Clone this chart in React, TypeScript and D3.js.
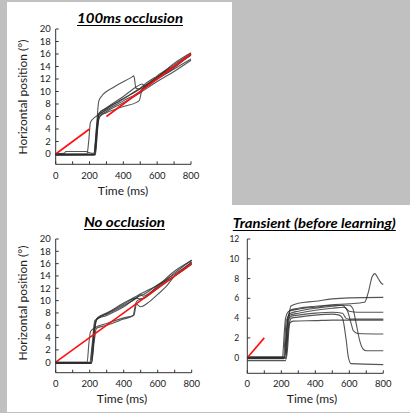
import React from "react";
import * as d3 from "d3";

type Pt = [number, number];

// ---- tick labels ----
const xTicksMajor = [0, 200, 400, 600, 800];
const xTicksMinor = [0, 100, 200, 300, 400, 500, 600, 700, 800];
const yTicksPos = [0, 2, 4, 6, 8, 10, 12, 14, 16, 18, 20];
const yTicksTransient = [0, 2, 4, 6, 8, 10, 12];

// ---- titles / labels ----
const titles = ["100ms occlusion", "No occlusion", "Transient (before learning)"];
const xLabel = "Time (ms)";
const yLabel = "Horizontal position (°)";

// ---- target (red) ----
const targetOcclA: Pt = [0, 0];
const targetOcclB: Pt = [200, 4];
const targetOcclC: Pt = [300, 6];
const targetOcclD: Pt = [800, 16];
const targetFull: Pt[] = [[0, 0], [800, 16]];
const targetTransient: Pt[] = [[0, 0], [100, 2]];

// ---- eye traces: 100ms occlusion ----
const occ1: Pt[] = [[0, 0], [185, 0], [195, 2], [205, 5], [220, 5.6], [250, 6.2], [300, 7.2], [400, 8.8], [480, 10.2], [520, 10.8], [600, 12.3], [700, 14], [800, 15.8]];
const occ2: Pt[] = [[0, -0.1], [225, -0.1], [240, 4], [255, 8.5], [270, 9.2], [350, 10.8], [450, 12.3], [462, 12.5], [475, 10.5], [500, 10.4], [600, 12], [700, 13.6], [800, 15.2]];
const occ3: Pt[] = [[0, -0.15], [230, -0.1], [245, 4], [255, 6.2], [300, 7], [400, 8.5], [470, 9.5], [490, 9.8], [520, 10.6], [600, 12.3], [700, 14.1], [800, 15.9]];
const occ4: Pt[] = [[0, -0.2], [232, -0.15], [248, 4], [258, 6], [300, 6.6], [400, 7.6], [480, 8.3], [495, 8.6], [510, 10.2], [600, 12], [700, 13.8], [800, 16]];
const occ5: Pt[] = [[0, 0], [228, 0], [243, 4.5], [255, 6.5], [300, 7.3], [400, 8.9], [500, 10.5], [520, 11], [600, 12.5], [700, 14.3], [800, 16.1]];
const occ6: Pt[] = [[0, -0.1], [235, -0.1], [250, 5], [262, 6], [300, 6.8], [400, 8.2], [500, 9.8], [600, 11.6], [700, 13.2], [800, 15]];
const occ7: Pt[] = [[0, 0], [50, 0.1], [60, 0.4], [180, 0.4], [200, 0.2], [225, 0.1], [240, 3], [255, 6.4], [300, 7.4], [400, 9.2], [480, 10.8], [510, 11.2], [530, 10.8], [600, 12.2], [700, 14.5], [800, 16.2]];

// ---- eye traces: no occlusion ----
const no1: Pt[] = [[0, 0], [185, 0], [195, 3], [205, 5], [230, 5.6], [300, 6.3], [400, 7.2], [455, 7.6], [470, 9.5], [480, 10], [520, 10.4], [600, 12], [700, 14], [800, 16.3]];
const no2: Pt[] = [[0, -0.1], [205, -0.1], [218, 3], [232, 6.5], [260, 7.3], [300, 7.8], [400, 9.2], [480, 10.5], [500, 11], [515, 10.7], [550, 11.2], [600, 12.2], [700, 14.5], [800, 16.6]];
const no3: Pt[] = [[0, -0.15], [208, -0.15], [225, 4], [240, 7], [300, 7.9], [400, 9.4], [470, 10.4], [500, 10.3], [600, 12.4], [700, 14.8], [800, 16.5]];
const no4: Pt[] = [[0, -0.2], [210, -0.2], [225, 3], [240, 5.5], [300, 6], [400, 7], [460, 7.6], [475, 9.4], [500, 9], [550, 9.8], [600, 11], [650, 12.3], [700, 14], [750, 15], [800, 16]];
const no5: Pt[] = [[0, 0], [200, 0], [215, 3], [230, 6.8], [300, 7.6], [400, 9], [490, 10.7], [510, 10.9], [600, 12.6], [700, 14.3], [800, 16.2]];
const no6: Pt[] = [[0, -0.1], [212, -0.1], [228, 5], [245, 7.2], [300, 8], [400, 9.6], [480, 10.8], [600, 12.5], [700, 14], [800, 15.9]];

// ---- eye traces: transient ----
const tr1: Pt[] = [[0, 0], [225, 0], [240, 3], [255, 5.2], [300, 5.5], [400, 5.7], [500, 5.95], [600, 6.05], [800, 6.1]];
const tr2: Pt[] = [[0, -0.1], [215, -0.1], [232, 3], [250, 4.8], [300, 5], [400, 5.2], [500, 5.35], [600, 5.45], [690, 5.6], [710, 6.5], [735, 8.2], [750, 8.5], [770, 8], [790, 7.5], [800, 7.4]];
const tr3: Pt[] = [[0, 0.1], [220, 0.1], [240, 4.2], [255, 4.5], [300, 4.7], [400, 5], [500, 5.2], [560, 5.3], [580, 5], [600, 4.7], [650, 4.6], [800, 4.6]];
const tr4: Pt[] = [[0, 0], [220, 0], [240, 3.8], [260, 4.2], [300, 4.3], [400, 4.5], [500, 4.6], [560, 4.5], [580, 4], [600, 3.9], [800, 3.9]];
const tr5: Pt[] = [[0, -0.05], [230, -0.05], [250, 3.5], [270, 3.7], [400, 3.75], [500, 3.8], [800, 3.8]];
const tr6: Pt[] = [[0, 0.05], [212, 0.05], [230, 3.8], [250, 4.3], [300, 4.5], [400, 4.8], [500, 5], [570, 5.1], [590, 4.7], [610, 3.5], [625, 2.7], [650, 2.45], [800, 2.4]];
const tr7: Pt[] = [[0, 0], [205, 0], [225, 4], [245, 4.7], [300, 4.9], [400, 5.1], [500, 5.3], [600, 5.3], [620, 5], [640, 3.5], [660, 1.8], [680, 0.9], [700, 0.7], [800, 0.7]];
const tr8: Pt[] = [[0, -0.3], [225, -0.3], [242, 3], [260, 4], [300, 4.1], [400, 4.3], [500, 4.4], [540, 4.3], [560, 4], [580, 2], [595, 0], [610, -0.6], [800, -0.7]];

const occTraces = [occ1, occ2, occ3, occ4, occ5, occ6, occ7];
const noTraces = [no1, no2, no3, no4, no5, no6];
const trTraces = [tr1, tr2, tr3, tr4, tr5, tr6, tr7, tr8];

const FONT = "Lato, 'Open Sans', sans-serif";

interface PanelProps {
  x0: number; x1: number; yTop: number; yBottom: number;
  yMax: number; yMin: number; yTicks: number[];
  traces: Pt[][]; red: Pt[][];
  title: string; titleX: number; titleY: number; titleW: number;
  yLabelShow: boolean; yLabelX: number; yLabelY: number;
  xLabelX: number; xLabelY: number; tickLabelY: number;
  yTickFont: number; yTickGap: number;
}

function Panel(p: PanelProps) {
  const x = d3.scaleLinear().domain([0, 800]).range([p.x0, p.x1]);
  const y = d3.scaleLinear().domain([p.yMin, p.yMax]).range([p.yBottom, p.yTop]);
  const line = d3.line<Pt>().x(d => x(d[0])).y(d => y(d[1])).curve(d3.curveMonotoneX);
  const straight = d3.line<Pt>().x(d => x(d[0])).y(d => y(d[1]));
  const axisColor = "#333";
  return (
    <g>
      <text x={p.titleX} y={p.titleY} textAnchor="middle" fontFamily={FONT} fontWeight="bold" fontStyle="italic"
        fontSize={14} textLength={p.titleW} lengthAdjust="spacingAndGlyphs" fill="#000">{p.title}</text>
      <line x1={p.titleX - p.titleW / 2} x2={p.titleX + p.titleW / 2} y1={p.titleY + 2.5} y2={p.titleY + 2.5} stroke="#000" strokeWidth={1.2} />
      {p.traces.map((t, i) => (
        <path key={i} d={line(t) || ""} fill="none" stroke="#2a2a2a" strokeWidth={1.1} strokeOpacity={0.8} />
      ))}
      {p.red.map((t, i) => (
        <path key={"r" + i} d={straight(t) || ""} fill="none" stroke="#ff1010" strokeWidth={1.6} />
      ))}
      <line x1={p.x0} x2={p.x0} y1={y(p.yMax)} y2={p.yBottom} stroke={axisColor} strokeWidth={1} />
      <line x1={p.x0} x2={p.x1} y1={p.yBottom} y2={p.yBottom} stroke={axisColor} strokeWidth={1} />
      {p.yTicks.map(v => (
        <g key={"y" + v}>
          <line x1={p.x0} x2={p.x0 + 3} y1={y(v)} y2={y(v)} stroke={axisColor} strokeWidth={1} />
          <text x={p.x0 - p.yTickGap} y={y(v)} dy="0.35em" textAnchor="end" fontFamily={FONT} fontSize={p.yTickFont} fill="#222">{v}</text>
        </g>
      ))}
      {xTicksMinor.map(v => (
        <line key={"xm" + v} x1={x(v)} x2={x(v)} y1={p.yBottom} y2={p.yBottom - 3} stroke={axisColor} strokeWidth={1} />
      ))}
      {xTicksMajor.map(v => (
        <text key={"xl" + v} x={x(v)} y={p.tickLabelY} dy="0.35em" textAnchor="middle" fontFamily={FONT} fontSize={9.5} fill="#222">{v}</text>
      ))}
      <text x={p.xLabelX} y={p.xLabelY} dy="0.35em" textAnchor="middle" fontFamily={FONT} fontSize={12} fill="#222">{xLabel}</text>
      {p.yLabelShow && (
        <text transform={`translate(${p.yLabelX},${p.yLabelY}) rotate(-90)`} dy="0.35em" textAnchor="middle"
          fontFamily={FONT} fontSize={12} fill="#222">{yLabel}</text>
      )}
    </g>
  );
}

export default function App() {
  return (
    <div style={{ position: "fixed", left: 0, top: 0, width: 410, height: 413 }}>
      <svg width={410} height={413} style={{ display: "block" }}>
        <rect x={0} y={0} width={410} height={413} fill="#c0c0c0" />
        <rect x={7} y={2} width={225} height={410} fill="#fff" />
        <rect x={231} y={205} width={179} height={207} fill="#fff" />
        <Panel x0={55.7} x1={191} yTop={29} yBottom={164.3} yMax={20} yMin={-1.65} yTicks={yTicksPos}
          traces={occTraces} red={[[targetOcclA, targetOcclB], [targetOcclC, targetOcclD]]}
          title={titles[0]} titleX={130} titleY={23} titleW={106}
          yLabelShow={true} yLabelX={23} yLabelY={97} xLabelX={123} xLabelY={191} tickLabelY={176}
          yTickFont={9.5} yTickGap={5} />
        <Panel x0={55.7} x1={191.7} yTop={239} yBottom={372.7} yMax={20} yMin={-1.7} yTicks={yTicksPos}
          traces={noTraces} red={[targetFull]}
          title={titles[1]} titleX={124.5} titleY={227} titleW={81}
          yLabelShow={true} yLabelX={23} yLabelY={303} xLabelX={122} xLabelY={399} tickLabelY={384}
          yTickFont={9.5} yTickGap={5} />
        <Panel x0={247.3} x1={383.3} yTop={239} yBottom={373.3} yMax={12} yMin={-1.58} yTicks={yTicksTransient}
          traces={trTraces} red={[targetTransient]}
          title={titles[2]} titleX={314.3} titleY={228} titleW={163}
          yLabelShow={false} yLabelX={0} yLabelY={0} xLabelX={312} xLabelY={399} tickLabelY={384}
          yTickFont={8.5} yTickGap={8} />
      </svg>
    </div>
  );
}
